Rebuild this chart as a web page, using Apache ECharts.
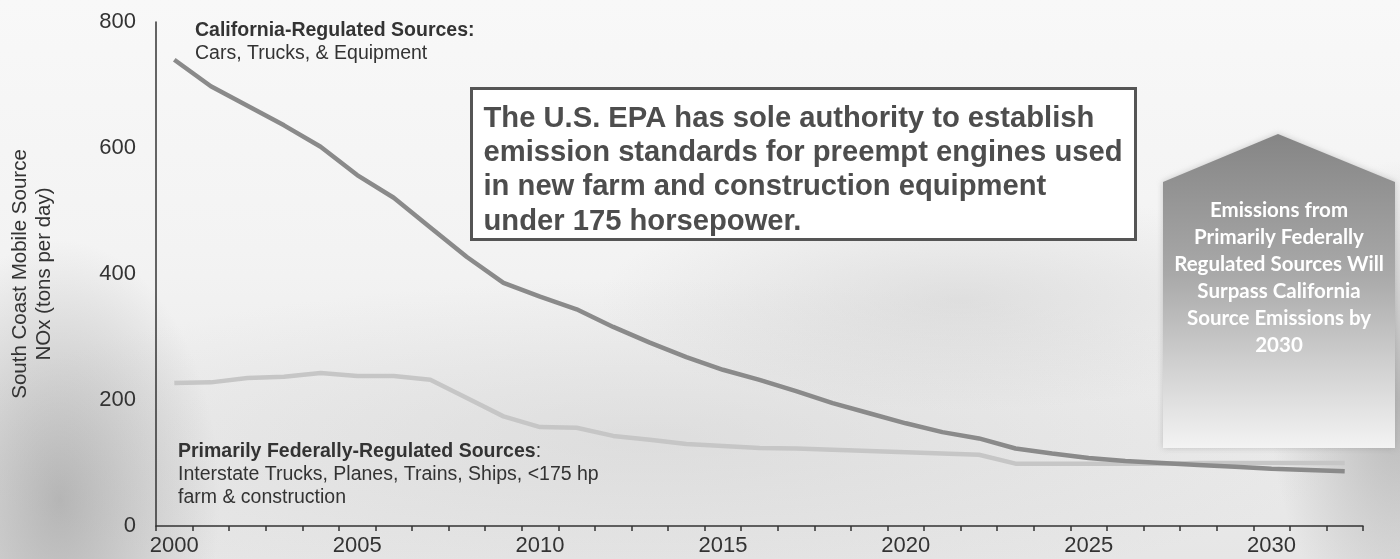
<!DOCTYPE html>
<html>
<head>
<meta charset="utf-8">
<script src="https://cdn.jsdelivr.net/npm/echarts@6/dist/echarts.min.js"></script>
<style>
  html, body { margin: 0; padding: 0; }
  #chart {
    width: 1400px; height: 559px;
    background:
      radial-gradient(ellipse 160px 260px at 60px 500px, rgba(140,140,140,0.55), rgba(140,140,140,0) 100%),
      radial-gradient(ellipse 130px 240px at 1400px 400px, rgba(140,140,140,0.55), rgba(140,140,140,0) 100%),
      radial-gradient(ellipse 360px 110px at 960px 300px, rgba(175,175,175,0.28), rgba(175,175,175,0) 100%),
      radial-gradient(ellipse 700px 160px at 650px 440px, rgba(190,190,190,0.3), rgba(190,190,190,0) 100%),
      linear-gradient(180deg, #f8f8f8 0%, #f3f3f3 45%, #e6e6e6 100%);
  }
</style>
</head>
<body>
<div id="chart"></div>
<script>
// Years on the category axis
const years = [];
for (let y = 2000; y <= 2032; y++) years.push(String(y));

// South Coast mobile source NOx, tons per day
const californiaRegulated = [740, 698, 667, 636, 602, 557, 521, 474, 427, 386, 364, 344, 316, 291, 268, 248, 232, 214, 195, 179, 163, 149, 139, 123, 115, 108, 103, 100, 97, 94, 91, 89, 87];
const federallyRegulated = [227, 228, 235, 237, 243, 238, 238, 232, 203, 174, 157, 156, 143, 137, 130, 127, 124, 123, 121, 119, 117, 115, 113, 99, 99, 99, 99, 99, 100, 100, 100, 100, 100];

const yTicks = [0, 200, 400, 600, 800];

const chart = echarts.init(document.getElementById('chart'), null, { renderer: 'canvas' });

const font = 'Liberation Sans, Arial, sans-serif';

chart.setOption({
  backgroundColor: 'transparent',
  animation: false,
  grid: { left: 155, right: 37, top: 22, bottom: 33, containLabel: false },
  xAxis: {
    type: 'category',
    data: years,
    boundaryGap: true,
    axisLine: { show: true, lineStyle: { color: '#333', width: 1.5 } },
    axisTick: { show: true, interval: 0, length: 5, lineStyle: { color: '#333', width: 1.5 } },
    axisLabel: {
      interval: (i, v) => Number(v) % 5 === 0,
      fontFamily: font, fontSize: 22, color: '#333', margin: 9
    },
    splitLine: { show: false }
  },
  yAxis: {
    type: 'value',
    min: yTicks[0], max: yTicks[yTicks.length - 1], interval: 200,
    name: 'South Coast Mobile Source\nNOx (tons per day)',
    nameLocation: 'middle',
    nameGap: 100,
    nameTextStyle: { fontFamily: font, fontSize: 20.5, color: '#333', lineHeight: 24 },
    axisLine: { show: true, lineStyle: { color: '#333', width: 1.5 } },
    axisTick: { show: false },
    axisLabel: { fontFamily: font, fontSize: 22, color: '#333', margin: 20 },
    splitLine: { show: false }
  },
  series: [
    {
      name: 'California-Regulated Sources',
      type: 'line',
      data: californiaRegulated,
      symbol: 'none',
      lineStyle: { color: '#8a8a8a', width: 4.5 },
      z: 3
    },
    {
      name: 'Primarily Federally-Regulated Sources',
      type: 'line',
      data: federallyRegulated,
      symbol: 'none',
      lineStyle: { color: '#c6c6c6', width: 4.5 },
      z: 2
    }
  ],
  graphic: [
    {
      type: 'text', left: 195, top: 21, z: 10,
      style: {
        text: '{b|California-Regulated Sources:}\n{n|Cars, Trucks, & Equipment}',
        rich: {
          b: { fontFamily: font, fontSize: 19.5, fontWeight: 'bold', fill: '#333', lineHeight: 23 },
          n: { fontFamily: font, fontSize: 19.5, fill: '#333', lineHeight: 23 }
        }
      }
    },
    {
      type: 'text', left: 178, top: 442, z: 10,
      style: {
        text: '{b|Primarily Federally-Regulated Sources}{n|:}\n{n|Interstate Trucks, Planes, Trains, Ships, <175 hp}\n{n|farm & construction}',
        rich: {
          b: { fontFamily: font, fontSize: 19.5, fontWeight: 'bold', fill: '#333', lineHeight: 23 },
          n: { fontFamily: font, fontSize: 19.5, fill: '#333', lineHeight: 23 }
        }
      }
    },
    {
      type: 'group', left: 470, top: 87, z: 20,
      children: [
        {
          type: 'rect',
          shape: { x: 0, y: 0, width: 664, height: 151 },
          style: { fill: '#ffffff', stroke: '#555555', lineWidth: 3 }
        },
        {
          type: 'text', x: 12, y: 13,
          style: {
            text: 'The U.S. EPA has sole authority to establish\nemission standards for preempt engines used\nin new farm and construction equipment\nunder 175 horsepower.',
            fontFamily: font, fontSize: 29.2, fontWeight: 'bold', fill: '#4d4d4d', lineHeight: 34.3
          }
        }
      ]
    },
    {
      type: 'polygon', z: 15,
      shape: { points: [[1163, 182], [1278, 134], [1395, 182], [1395, 448], [1163, 448]] },
      style: {
        fill: new echarts.graphic.LinearGradient(0, 0, 0, 1, [
          { offset: 0, color: '#858585' },
          { offset: 0.45, color: '#a9a9a9' },
          { offset: 0.75, color: '#d2d2d2' },
          { offset: 1, color: '#f3f3f3' }
        ]),
        shadowBlur: 6, shadowColor: 'rgba(120,120,120,0.35)'
      }
    },
    {
      type: 'text', x: 1279, y: 197, z: 16,
      style: {
        text: 'Emissions from\nPrimarily Federally\nRegulated Sources Will\nSurpass California\nSource Emissions by\n2030',
        fontFamily: 'Lato, Open Sans, sans-serif', fontSize: 20.5, fontWeight: 'bold',
        fill: '#ffffff', align: 'center', lineHeight: 27
      }
    }
  ]
});
</script>
</body>
</html>
